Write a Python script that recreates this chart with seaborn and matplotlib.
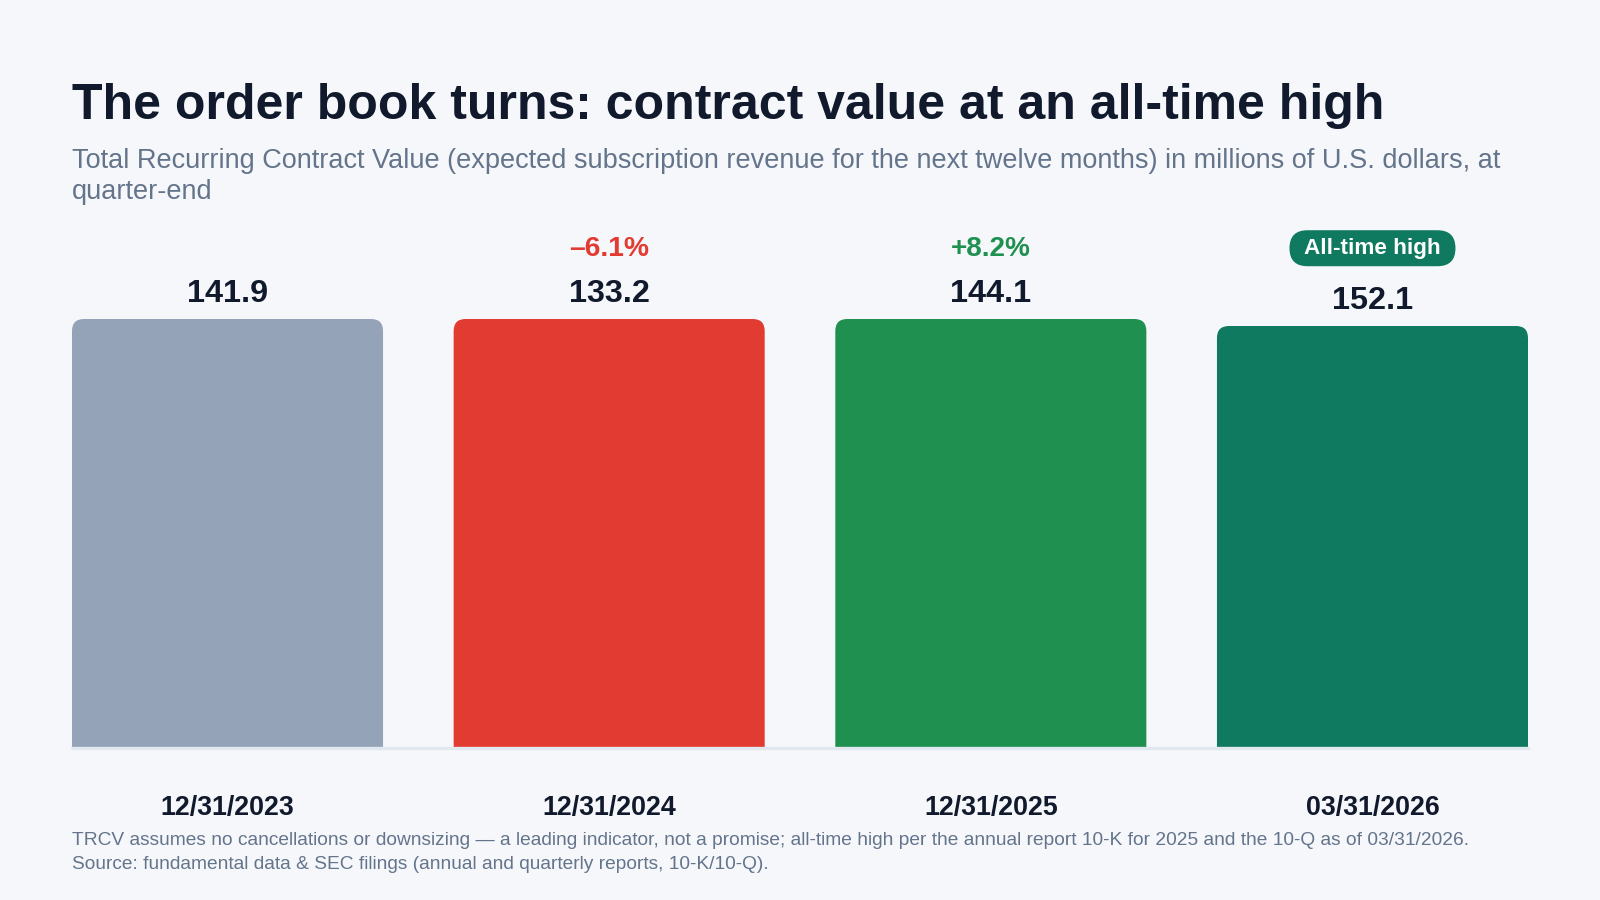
import matplotlib
matplotlib.use("Agg")
import matplotlib.pyplot as plt
import matplotlib.transforms as mtransforms
from matplotlib.patches import FancyBboxPatch
import seaborn as sns
import pandas as pd

# ---------------- data ----------------
dates = ["12/31/2023", "12/31/2024", "12/31/2025", "03/31/2026"]
trcv = [141.9, 133.2, 144.1, 152.1]                 # value labels (USD millions)
drawn_height = [429, 429, 429, 422]                 # bar heights as drawn in the reference
change_labels = [None, "\u20136.1%", "+8.2%", None]
badge_labels = [None, None, None, "All-time high"]
bar_colors = ["#94a3b8", "#e23b31", "#1f9050", "#0f7a5f"]
change_colors = [None, "#e23b31", "#1f9050", None]

title = "The order book turns: contract value at an all-time high"
subtitle_lines = [
    "Total Recurring Contract Value (expected subscription revenue for the next twelve months) in millions of U.S. dollars, at",
    "quarter-end",
]
footnote_lines = [
    "TRCV assumes no cancellations or downsizing \u2014 a leading indicator, not a promise; all-time high per the annual report 10-K for 2025 and the 10-Q as of 03/31/2026.",
    "Source: fundamental data & SEC filings (annual and quarterly reports, 10-K/10-Q).",
]

# ---------------- style ----------------
sns.set_theme(style="white")
plt.rcParams["font.family"] = ["Liberation Sans", "DejaVu Sans"]

BG = "#f5f7fb"
DARK = "#111a2c"
SLATE = "#64748b"
W, H = 1600, 900

fig = plt.figure(figsize=(16, 9), dpi=100, facecolor=BG)
ax = fig.add_axes([72 / W, 1 - 748 / H, 1456 / W, 528 / H])
ax.set_facecolor(BG)

BW = 0.815
df = pd.DataFrame({"date": dates, "h": drawn_height})
sns.barplot(data=df, x="date", y="h", hue="date", palette=bar_colors, legend=False,
            width=BW, saturation=1, errorbar=None, ax=ax)
ax.set_xlim(-BW / 2, len(dates) - 1 + BW / 2)
ax.set_ylim(0, 528)

for s in ax.spines.values():
    s.set_visible(False)
ax.set_yticks([])
ax.set_xlabel("")
ax.set_ylabel("")

renderer = fig.canvas.get_renderer()


def fit(t, target_px):
    bb = t.get_window_extent(renderer)
    t.set_fontsize(t.get_fontsize() * target_px / bb.width)
    return t.get_fontsize()


# rounded-top bars replacing seaborn's rectangles (bottom corners fall below the axes and are clipped)
px_per_x = 1456 / (len(dates) - 1 + BW)
r_px = 12
rx = r_px / px_per_x
ry = r_px
patches = sorted([p for p in ax.patches], key=lambda p: p.get_x())
for i, p in enumerate(patches):
    x0, w, h = p.get_x(), p.get_width(), p.get_height()
    col = p.get_facecolor()
    p.set_visible(False)
    ax.add_patch(FancyBboxPatch((x0, -3 * ry), w, h + 3 * ry,
                                boxstyle=f"round,pad=0,rounding_size={rx}",
                                mutation_aspect=ry / rx, fc=col, ec="none", lw=0, zorder=2))

ax.axhline(0, color="#e2e8f0", lw=2.4, zorder=3, clip_on=False)

# value labels
val_size = None
for i, p in enumerate(patches):
    cx = p.get_x() + p.get_width() / 2
    h = p.get_height()
    t = ax.annotate(f"{trcv[i]:.1f}", xy=(cx, h), xytext=(0, 12.2), textcoords="offset points",
                    ha="center", va="baseline", fontsize=25, fontweight="bold", color=DARK)
    if val_size is None:
        val_size = fit(t, 81)
    else:
        t.set_fontsize(val_size)

    if change_labels[i]:
        t2 = ax.annotate(change_labels[i], xy=(cx, h), xytext=(0, 45), textcoords="offset points",
                         ha="center", va="baseline", fontsize=19, fontweight="bold",
                         color=change_colors[i])
        fit(t2, 80)

    if badge_labels[i]:
        t3 = ax.annotate(badge_labels[i], xy=(cx, h), xytext=(0, 56), textcoords="offset points",
                         ha="center", va="center", fontsize=15, fontweight="bold",
                         color="white", zorder=6)
        fit(t3, 137)
        # pill behind the badge text, in pixel units relative to the bar top
        trans = ax.transData + mtransforms.ScaledTranslation(0, 56 / 72, fig.dpi_scale_trans)
        pill_w, pill_h = 166, 36
        base = trans.transform((cx, h))
        pill = FancyBboxPatch((base[0] - pill_w / 2, base[1] - pill_h / 2), pill_w, pill_h,
                              boxstyle=f"round,pad=0,rounding_size={pill_h / 2}",
                              fc=bar_colors[i], ec="none",
                              transform=mtransforms.IdentityTransform(), zorder=5, clip_on=False)
        ax.add_artist(pill)

# x tick labels
ax.tick_params(axis="x", length=0, pad=33.5)
for lab in ax.get_xticklabels():
    lab.set_fontweight("bold")
    lab.set_color(DARK)
    lab.set_fontsize(19)
tl = ax.get_xticklabels()
tsize = fit(tl[0], 134)
for lab in tl:
    lab.set_fontsize(tsize)

# title / subtitle / footnotes
tt = fig.text(72 / W, 1 - 119 / H, title, ha="left", va="baseline", fontsize=40,
              fontweight="bold", color=DARK)
fit(tt, 1308)
s1 = fig.text(72 / W, 1 - 168 / H, subtitle_lines[0], ha="left", va="baseline",
              fontsize=17, color=SLATE)
ssz = fit(s1, 1431)
fig.text(72 / W, 1 - 199 / H, subtitle_lines[1], ha="left", va="baseline",
         fontsize=ssz, color=SLATE)
f1 = fig.text(72 / W, 1 - 845 / H, footnote_lines[0], ha="left", va="baseline",
              fontsize=13, color=SLATE)
fsz = fit(f1, 1398)
fig.text(72 / W, 1 - 869 / H, footnote_lines[1], ha="left", va="baseline",
         fontsize=fsz, color=SLATE)

fig.savefig("out.png", dpi=100, facecolor=BG)
